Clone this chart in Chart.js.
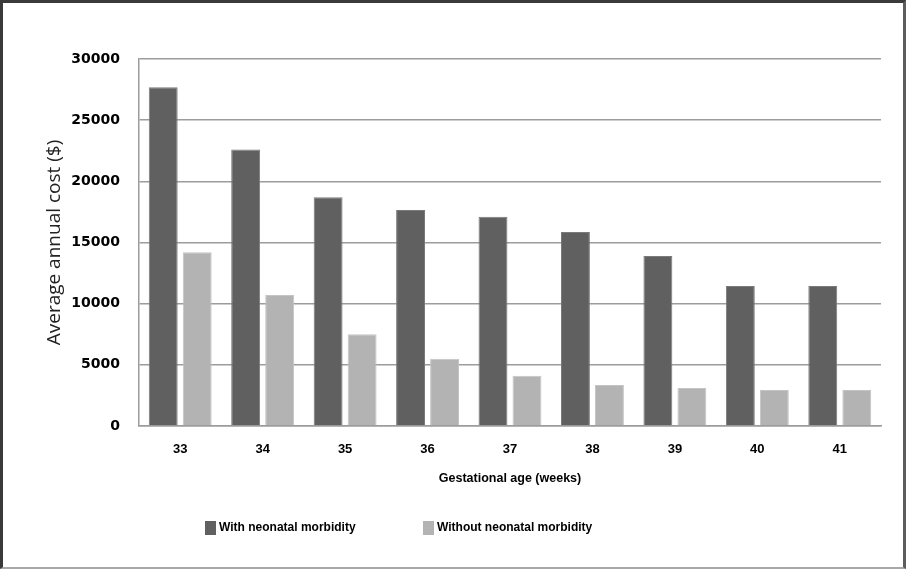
<!DOCTYPE html>
<html>
<head>
<meta charset="utf-8">
<script src="https://cdn.jsdelivr.net/npm/chart.js@4.4.1/dist/chart.umd.min.js"></script>
<style>
  html, body { margin: 0; padding: 0; background: #fff; }
  #wrap { position: relative; width: 906px; height: 569px; }
  #frame {
    position: absolute; left: 0; top: 0; width: 906px; height: 569px; box-sizing: border-box;
    border-left: 3px solid #3a3a3a; border-top: 3px solid #3a3a3a;
    border-right: 3px solid #5c5c5c; border-bottom: 2px solid #a8a8a8;
    pointer-events: none;
  }
</style>
</head>
<body>
<div id="wrap">
  <canvas id="myChart" width="906" height="569"></canvas>
  <div id="frame"></div>
</div>
<script>
// data
var weeks = ['33', '34', '35', '36', '37', '38', '39', '40', '41'];
var withMorbidity = [27700, 22600, 18700, 17650, 17100, 15850, 13900, 11450, 11450];
var withoutMorbidity = [14200, 10700, 7500, 5500, 4100, 3350, 3100, 2950, 2950];
var yTicks = [0, 5000, 10000, 15000, 20000, 25000, 30000];

var sans = '"Liberation Sans", Arial, sans-serif';

// legend drawn under the axis title
var bottomLegend = {
  id: 'bottomLegend',
  afterDraw: function (chart) {
    var ctx = chart.ctx;
    var xs = [205, 423];
    ctx.save();
    ctx.font = 'bold 12px ' + sans;
    ctx.textBaseline = 'middle';
    chart.data.datasets.forEach(function (ds, i) {
      ctx.fillStyle = ds.backgroundColor;
      ctx.fillRect(xs[i], 521, 11, 14);
      ctx.fillStyle = '#000';
      ctx.fillText(ds.label, xs[i] + 14, 528);
    });
    ctx.restore();
  },
};

var ctx = document.getElementById('myChart').getContext('2d');
var myChart = new Chart(ctx, {
  type: 'bar',
  data: {
    labels: weeks,
    datasets: [
      {
        label: 'With neonatal morbidity',
        data: withMorbidity,
        backgroundColor: '#606060',
        borderColor: '#7a7a7a',
        borderWidth: 1,
      },
      {
        label: 'Without neonatal morbidity',
        data: withoutMorbidity,
        backgroundColor: '#b3b3b3',
        borderColor: '#c4c4c4',
        borderWidth: 1,
      },
    ],
  },
  options: {
    responsive: false,
    animation: false,
    categoryPercentage: 0.825,
    barPercentage: 0.85,
    layout: { padding: { left: 43, right: 25, top: 59, bottom: 83 } },
    scales: {
      y: {
        min: 0,
        max: 30000,
        afterBuildTicks: function (scale) {
          scale.ticks = yTicks.map(function (v) { return { value: v }; });
        },
        afterFit: function (scale) { scale.width = 96; },
        ticks: {
          padding: 19,
          color: '#000',
          font: { size: 14, weight: 'bold', family: '"DejaVu Sans", sans-serif' },
          callback: function (value) { return String(value); },
        },
        grid: { color: '#9c9c9c', lineWidth: 1.5, drawTicks: false },
        border: { color: '#9c9c9c', width: 1.5 },
        title: {
          display: true,
          text: 'Average annual cost ($)',
          color: '#222',
          padding: { top: 0, bottom: 4 },
          font: { size: 19, family: '"Open Sans", sans-serif' },
        },
      },
      x: {
        afterFit: function (scale) { scale.height = 60; },
        ticks: {
          padding: 16,
          color: '#000',
          font: { size: 13, weight: 'bold', family: sans },
        },
        grid: { display: false, drawTicks: false },
        border: { color: '#9c9c9c', width: 1.5 },
        title: {
          display: true,
          text: 'Gestational age (weeks)',
          color: '#000',
          padding: { top: 11, bottom: 0 },
          font: { size: 12.5, weight: 'bold', family: sans },
        },
      },
    },
    plugins: {
      legend: { display: false },
      tooltip: { enabled: false },
    },
  },
  plugins: [bottomLegend],
});
</script>
</body>
</html>
